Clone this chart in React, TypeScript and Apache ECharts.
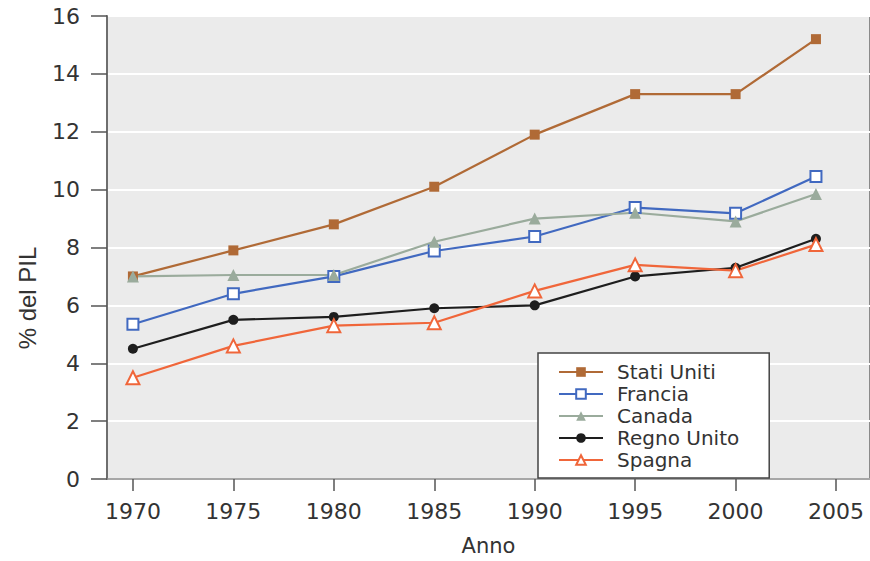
import React, { useEffect, useRef } from "react";
import * as echarts from "echarts";

const years = [1970, 1975, 1980, 1985, 1990, 1995, 2000, 2004];
const xTicks = [1970, 1975, 1980, 1985, 1990, 1995, 2000, 2005];
const statiUniti = [7.0, 7.9, 8.8, 10.1, 11.9, 13.3, 13.3, 15.2];
const francia = [5.35, 6.4, 7.0, 7.88, 8.38, 9.38, 9.18, 10.45];
const canada = [7.0, 7.05, 7.05, 8.2, 9.0, 9.2, 8.9, 9.85];
const regnoUnito = [4.5, 5.5, 5.6, 5.9, 6.0, 7.0, 7.3, 8.3];
const spagna = [3.5, 4.6, 5.3, 5.4, 6.5, 7.4, 7.2, 8.1];

const pairs = (vals: number[]) => years.map((y, i) => [y, vals[i]]);

export default function App() {
  const ref = useRef<HTMLDivElement>(null);
  useEffect(() => {
    if (!ref.current) return;
    const chart = echarts.init(ref.current, null, { renderer: "svg" });
    const mk = (
      name: string,
      vals: number[],
      color: string,
      symbol: string,
      size: number,
      hollow: boolean
    ) => ({
      name,
      type: "line",
      data: pairs(vals),
      symbol,
      symbolSize: size,
      showSymbol: true,
      lineStyle: { color, width: 2.2 },
      itemStyle: hollow
        ? { color: "#ffffff", borderColor: color, borderWidth: 2 }
        : { color, borderColor: color, borderWidth: 0 },
      emphasis: { disabled: true },
    });
    chart.setOption({
      animation: false,
      backgroundColor: "#ffffff",
      grid: {
        left: 107,
        top: 16,
        right: -2,
        bottom: 78,
        show: true,
        backgroundColor: "#ebebeb",
        borderColor: "#8a8a8a",
        borderWidth: 2,
      },
      graphic: [
        {
          type: "text",
          x: 27,
          y: 298,
          rotation: Math.PI / 2,
          style: {
            text: "% del PIL",
            fontFamily: "Liberation Sans",
            fontSize: 24,
            fill: "#333333",
            align: "center",
            verticalAlign: "middle",
          },
        },
      ],
      legend: {
        orient: "vertical",
        left: 538,
        top: 353,
        itemWidth: 44,
        itemHeight: 12,
        itemGap: 2,
        padding: [9, 30, 8, 20],
        backgroundColor: "#ffffff",
        borderColor: "#444444",
        borderWidth: 1.5,
        borderRadius: 0,
        textStyle: {
          fontFamily: "DejaVu Sans",
          fontSize: 20,
          lineHeight: 19,
          color: "#333333",
          padding: [0, 0, 0, 9],
        },
        data: ["Stati Uniti", "Francia", "Canada", "Regno Unito", "Spagna"],
      },
      xAxis: {
        type: "value",
        min: 1968.71,
        max: 2006.69,
        name: "Anno",
        nameLocation: "middle",
        nameGap: 56,
        nameTextStyle: { fontFamily: "DejaVu Sans", fontSize: 21, color: "#333" },
        axisLine: { show: true, lineStyle: { color: "#8a8a8a", width: 1.5 } },
        axisTick: {
          show: true,
          length: 12,
          customValues: xTicks,
          lineStyle: { color: "#555", width: 1.5 },
        },
        axisLabel: {
          customValues: xTicks,
          margin: 21,
          fontFamily: "DejaVu Sans",
          fontSize: 22,
          color: "#333",
          formatter: (v: number) => String(v),
        },
        splitLine: { show: false },
      },
      yAxis: {
        type: "value",
        min: 0,
        max: 16,
        interval: 2,
        axisLine: { show: true, lineStyle: { color: "#6e6e6e", width: 2 } },
        axisTick: { show: true, length: 16, lineStyle: { color: "#555", width: 1.5 } },
        axisLabel: {
          margin: 27,
          fontFamily: "DejaVu Sans",
          fontSize: 22,
          color: "#333",
        },
        splitLine: { show: true, lineStyle: { color: "#ffffff", width: 2 } },
      },
      series: [
        mk("Stati Uniti", statiUniti, "#b06a36", "rect", 10, false),
        mk("Francia", francia, "#4169c0", "rect", 11, true),
        mk("Canada", canada, "#9aab9c", "triangle", 12, false),
        mk("Regno Unito", regnoUnito, "#1e1e1e", "circle", 10, false),
        mk("Spagna", spagna, "#f0663a", "triangle", 13, true),
      ],
    });
    return () => chart.dispose();
  }, []);
  return (
    <div
      ref={ref}
      style={{ position: "fixed", left: 0, top: 0, width: 870, height: 561 }}
    />
  );
}
